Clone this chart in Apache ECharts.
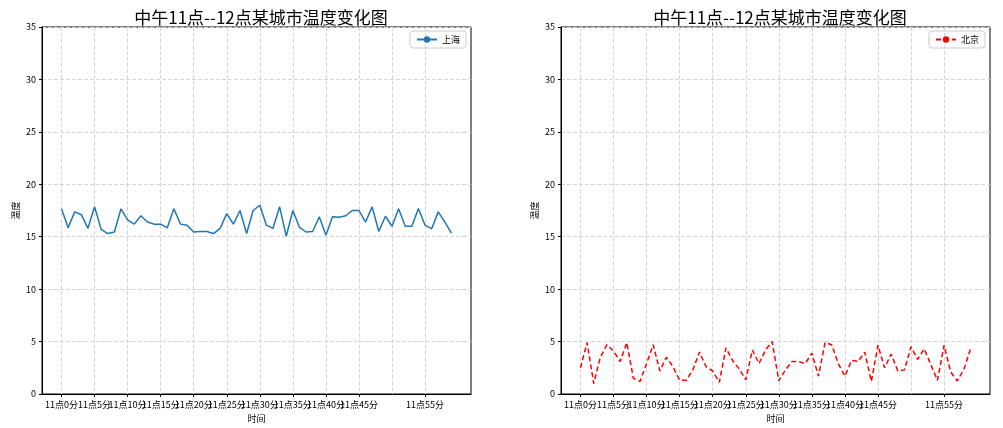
<!DOCTYPE html>
<html><head><meta charset="utf-8">
<script src="https://cdn.jsdelivr.net/npm/echarts@6/dist/echarts.min.js"></script>
<style>body{margin:0;background:#fff}#c{width:1003px;height:428px}</style></head>
<body><div id="c"></div>
<script>
const minutes = Array.from({length:60},(_,i)=>i);
const tickMinutes = [0,5,10,15,20,25,30,35,40,45,50,55];
const shanghai = [17.66,15.85,17.37,17.1,15.8,17.85,15.7,15.3,15.45,17.66,16.6,16.2,17.0,16.4,16.2,16.2,15.85,17.66,16.2,16.1,15.45,15.5,15.5,15.3,15.8,17.2,16.2,17.5,15.3,17.5,18.0,16.1,15.8,17.85,15.05,17.5,15.9,15.45,15.5,16.9,15.15,16.9,16.85,17.0,17.5,17.5,16.4,17.85,15.5,16.95,16.0,17.66,16.0,16.0,17.7,16.1,15.75,17.37,16.4,15.35];
const beijing = [2.5,4.9,1.0,3.5,4.7,4.1,3.1,4.9,1.5,1.2,2.9,4.7,2.2,3.5,2.6,1.3,1.3,2.3,4.0,2.6,2.2,1.1,4.4,3.2,2.4,1.35,4.2,2.9,4.2,5.0,1.25,2.3,3.1,3.1,2.9,3.9,1.7,4.9,4.7,2.9,1.7,3.2,3.1,4.0,1.2,4.65,2.5,3.8,2.2,2.3,4.5,3.3,4.3,2.8,1.3,4.65,2.1,1.25,2.35,4.3];
const titleText = '中午11点--12点某城市温度变化图';
const font = '"Noto Sans CJK SC", sans-serif';
const chart = echarts.init(document.getElementById('c'));
const grids = [{left:42,width:429,top:27,height:369},{left:561,width:429,top:27,height:369}];
const split = {show:true,lineStyle:{type:[4,2],color:'#d6d6d6'}};
function xAxis(i){return {type:'value',gridIndex:i,min:-2.95,max:61.95,name:'时间',nameLocation:'middle',nameGap:20,
  nameTextStyle:{fontFamily:font,fontSize:9,color:'#000'},
  axisLine:{onZero:false,lineStyle:{color:'#000'}},
  axisTick:{customValues:tickMinutes,length:3,lineStyle:{color:'#000'}},
  axisLabel:{customValues:tickMinutes,hideOverlap:false,interval:0,showMinLabel:true,showMaxLabel:true,formatter:v=>'11点'+v+'分',fontFamily:font,fontSize:9,color:'#000',margin:6},
  splitLine:split};}
function yAxis(i){return {type:'value',gridIndex:i,min:0,max:35,interval:5,name:'温度',nameLocation:'middle',nameGap:22,
  nameTextStyle:{fontFamily:font,fontSize:9,color:'#000'},
  axisLine:{show:true,onZero:false,lineStyle:{color:'#000'}},axisTick:{show:true,length:3,lineStyle:{color:'#000'}},
  axisLabel:{fontFamily:font,fontSize:9,color:'#000',margin:6},
  splitLine:split};}
const legendBase = {orient:'vertical',top:31,borderColor:'#ccc',borderWidth:1,borderRadius:3,padding:[4,6],itemWidth:20,itemHeight:8,textStyle:{fontFamily:font,fontSize:9,color:'#000'}};
chart.setOption({
  animation:false,
  title:[{text:titleText,left:256,top:4,textAlign:'center',textStyle:{fontFamily:font,fontSize:17,fontWeight:'normal',color:'#000'}},
         {text:titleText,left:775,top:4,textAlign:'center',textStyle:{fontFamily:font,fontSize:17,fontWeight:'normal',color:'#000'}}],
  legend:[Object.assign({data:['上海'],right:537},legendBase),Object.assign({data:['北京'],right:18},legendBase)],
  grid:grids.map(g=>Object.assign({show:true,borderColor:'#000',borderWidth:1},g)),
  xAxis:[xAxis(0),xAxis(1)],
  yAxis:[yAxis(0),yAxis(1)],
  series:[
    {name:'上海',type:'line',xAxisIndex:0,yAxisIndex:0,data:minutes.map((m,i)=>[m,shanghai[i]]),symbol:'none',lineStyle:{color:'#1f77b4',width:1.5},itemStyle:{color:'#1f77b4'}},
    {name:'北京',type:'line',xAxisIndex:1,yAxisIndex:1,data:minutes.map((m,i)=>[m,beijing[i]]),symbol:'none',lineStyle:{color:'#ff0000',width:1.5,type:[5,3]},itemStyle:{color:'#ff0000'}}
  ]
});
</script></body></html>
